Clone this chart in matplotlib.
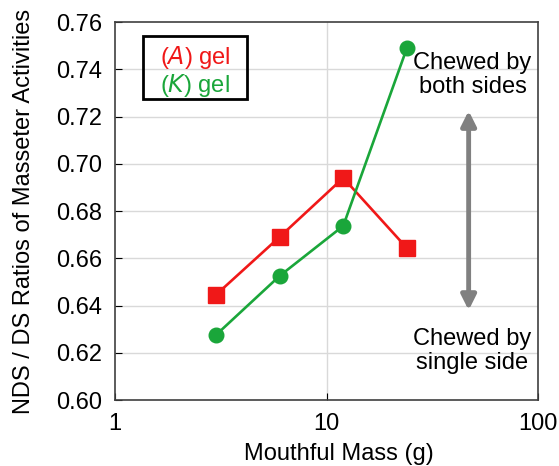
import matplotlib
matplotlib.use('Agg')
import matplotlib.pyplot as plt

plt.rcParams['font.family'] = ['Liberation Sans', 'DejaVu Sans']

# mouthful mass (g) and NDS/DS ratios
mass = [3, 6, 12, 24]
gel_a = [0.6445, 0.669, 0.694, 0.6643]
gel_k = [0.6275, 0.6525, 0.6737, 0.749]

yticks = [0.60, 0.62, 0.64, 0.66, 0.68, 0.70, 0.72, 0.74, 0.76]
xticks = [1, 10, 100]

red = '#f01818'
green = '#1aa63a'

fig = plt.figure(figsize=(5.59, 4.66), dpi=100)
ax = fig.add_axes([115 / 559, 66 / 466, 423 / 559, 378 / 466])

ax.set_xscale('log')
ax.set_xlim(1, 100)
ax.set_ylim(0.60, 0.76)
ax.set_yticks(yticks)
ax.set_yticklabels(['%.2f' % v for v in yticks])
ax.set_xticks(xticks)
ax.set_xticklabels([str(v) for v in xticks])
ax.minorticks_off()

# grid: horizontal every 0.02, vertical only at 10
for v in yticks[1:-1]:
    ax.axhline(v, color='#d9d9d9', lw=1, zorder=0)
ax.axvline(10, color='#d9d9d9', lw=1, zorder=0)

ax.plot(mass, gel_a, color=red, lw=1.9, marker='s', ms=11, zorder=3)
ax.plot(mass, gel_k, color=green, lw=1.9, marker='o', ms=10.5, zorder=3)

ax.tick_params(labelsize=17, length=5, direction='in', color='black', pad=9)
for s in ax.spines.values():
    s.set_color('#404040')
    s.set_linewidth(1.2)

ax.set_xlabel('Mouthful Mass (g)', fontsize=17, labelpad=6)
ax.xaxis.label.set_x(0.53)
ax.set_ylabel('NDS / DS Ratios of Masseter Activities', fontsize=17)
ax.yaxis.set_label_coords(-0.19, 0.5)

# legend box drawn as text
ax.text(0.189, 0.905, '($\\mathit{A}$) gel', color=red, fontsize=17,
        transform=ax.transAxes, ha='center', va='center')
ax.text(0.189, 0.833, '($\\mathit{K}$) gel', color=green, fontsize=17,
        transform=ax.transAxes, ha='center', va='center')
ax.add_patch(plt.Rectangle((0.066, 0.796), 0.246, 0.167, transform=ax.transAxes,
                           fill=False, ec='black', lw=2, zorder=4))

# annotation arrow
ax.annotate('', xy=(47, 0.7236), xytext=(47, 0.6368),
            arrowprops=dict(arrowstyle='<|-|>', color='#808080', lw=3.5,
                            mutation_scale=22))
ax.text(49, 0.7376, 'Chewed by\nboth sides', fontsize=17, ha='center',
        va='center', linespacing=1.1)
ax.text(49, 0.6207, 'Chewed by\nsingle side', fontsize=17, ha='center',
        va='center', linespacing=1.1)

fig.savefig('out.png', dpi=100)
